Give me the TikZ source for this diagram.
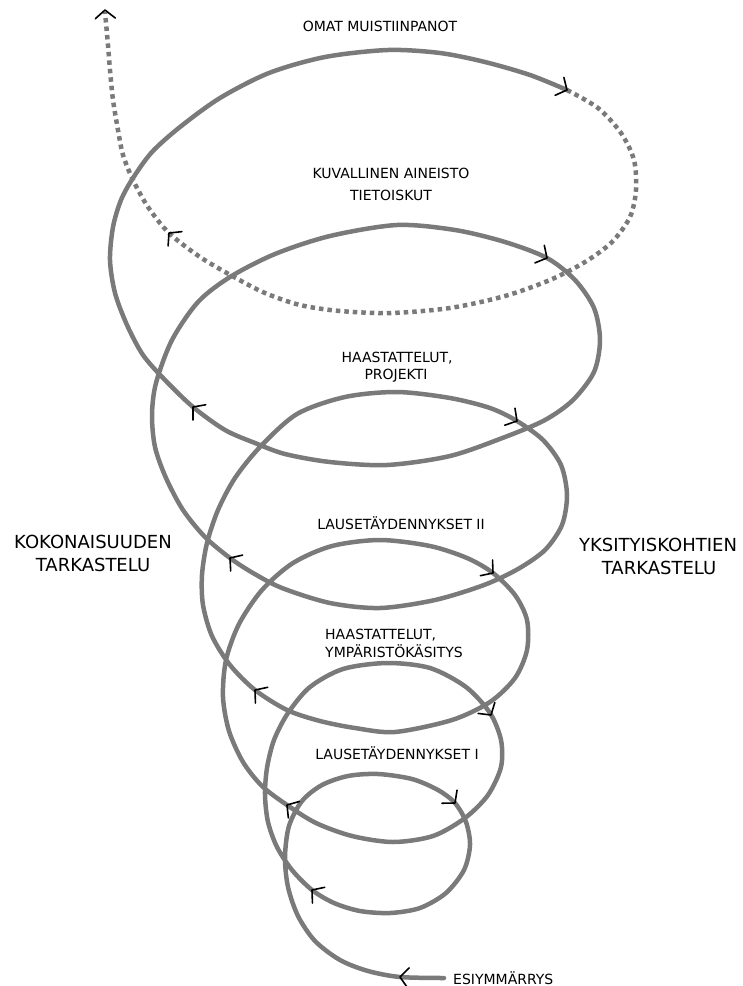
\documentclass[tikz,border=0pt]{standalone}
\usepackage{fontspec}
\setmainfont{DejaVu Sans}
\usepackage{tikz}
\usetikzlibrary{calc}
\definecolor{spiralgray}{RGB}{122,122,122}
\newcommand{\spiralcolor}{spiralgray}
\newcommand{\thickness}{4.5pt}
\newcommand{\tiparm}{13pt}
% open black arrowhead at point #1, pointing to angle #2
\newcommand{\tipat}[2]{\draw[tipmark] (#1) ++(#2+130:\tiparm) -- (#1) -- ++(#2-130:\tiparm);}

\begin{document}
\begin{tikzpicture}[x=1pt,y=-1pt,
  spiral/.style={draw=\spiralcolor, line width=\thickness, line cap=round, line join=round},
  dotspiral/.style={draw=\spiralcolor, line width=\thickness, dash pattern=on 4.5pt off 4pt},
  tipmark/.style={black, line width=1.6pt, line cap=round, line join=round},
  lbl/.style={anchor=base, inner sep=0pt, font=\fontsize{14}{17}\selectfont},
  sidelbl/.style={anchor=base, inner sep=0pt, font=\fontsize{18}{23}\selectfont}]
\useasboundingbox (0,0) rectangle (743,986);

% labels
\node[lbl] (omat) at (380,31) {OMAT MUISTIINPANOT};
\node[lbl] (kuva) at (391,178) {KUVALLINEN AINEISTO};
\node[lbl] (tieto) at (391,200) {TIETOISKUT};
\node[lbl] (haasA) at (397,362) {HAASTATTELUT,};
\node[lbl] (proj) at (396,379) {PROJEKTI};
\node[lbl] (lauseB) at (401,529) {LAUSETÄYDENNYKSET II};
\node[lbl,anchor=base west] (haasB) at (325,639) {HAASTATTELUT,};
\node[lbl,anchor=base west] (ymp) at (325,657) {YMPÄRISTÖKÄSITYS};
\node[lbl] (lauseA) at (397,759) {LAUSETÄYDENNYKSET I};
\node[sidelbl] (koko) at (93,548) {KOKONAISUUDEN};
\node[sidelbl] (kokotark) at (93,571) {TARKASTELU};
\node[sidelbl] (yksi) at (658,551) {YKSITYISKOHTIEN};
\node[sidelbl] (yksitark) at (659,574) {TARKASTELU};
\node[lbl,anchor=base west] (esi) at (453,984) {ESIYMMÄRRYS};

\coordinate (start) at (444,978);
\coordinate (turn) at (567,90);
\coordinate (top) at (105,12);

% solid spiral
\draw[spiral] plot[smooth] coordinates {
  (start) (400,977) (368,971) (340,960) (315,941) (298,916) (288,887) (285,857)
  (289,826) (302,801) (322,785) (348,776) (378,774) (412,779) (438,790) (455,803)
  (466,822) (470,845) (464,870) (446,893) (420,908) (390,913) (360,911) (334,903)
  (312,890) (292,870) (277,847) (268,822) (265,795) (267,768) (274,740) (288,713)
  (310,687) (343,669) (387,663) (430,668) (466,687) (490,713) (501,740) (501,767)
  (488,795) (465,818) (433,836) (393,842) (352,836) (316,823) (287,805) (262,786)
  (243,762) (229,731) (223,697) (226,660) (239,624) (262,590) (293,563) (332,546)
  (380,540) (430,546) (467,558) (493,573) (515,595) (527,620) (527,650) (515,678)
  (490,702) (452,720) (395,732) (355,728) (320,721) (287,710) (255,690) (230,665)
  (212,636) (203,605) (202,575) (207,543) (218,510) (235,478) (260,447) (297,414)
  (345,397) (397,392) (450,398) (490,408) (517,421) (543,440) (561,465) (567,495)
  (562,525) (545,550) (518,569) (484,585) (435,600) (380,608) (330,603) (282,588)
  (253,573) (230,558) (205,537) (183,510) (166,478) (155,447) (152,415) (156,383)
  (172,340) (198,302) (230,277) (275,254) (330,236) (397,225) (455,230) (505,242)
  (547,258) (575,280) (594,308) (600,340) (594,372) (573,400) (545,420) (505,437)
  (450,456) (387,465) (330,462) (285,454) (255,443) (225,430) (193,407) (165,380)
  (143,355) (127,325) (115,293) (110,260) (113,227) (121,200) (133,178) (152,152)
  (180,127) (220,98) (269,73) (325,57) (388,50) (440,53) (485,62) (530,75) (turn)};

% dotted last turn
\draw[dotspiral] plot[smooth] coordinates {
  (turn) (598,108) (621,133) (634,160) (636,190) (630,217) (612,242) (585,262)
  (550,280) (505,296) (450,308) (391,313) (340,311) (300,305) (265,293) (234,277)
  (200,257) (169,233) (148,207) (133,180) (123,155) (118,130) (113,100) (110,70)
  (108,45) (top)};

% arrowheads
\tipat{400,977}{175}
\tipat{455,803}{-49}
\tipat{312,890}{142}
\tipat{491,715}{-57}
\tipat{287,805}{146}
\tipat{493,573}{-38}
\tipat{255,690}{142}
\tipat{517,421}{-31}
\tipat{230,558}{143}
\tipat{547,258}{-28}
\tipat{193,407}{140}
\tipat{567,90}{-26}
\tipat{169,233}{136}
\tipat{105,10}{92}
\end{tikzpicture}
\end{document}
